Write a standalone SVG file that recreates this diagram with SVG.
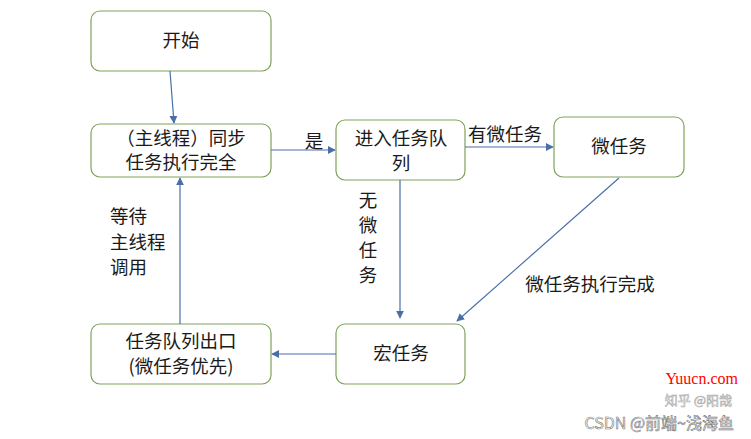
<svg xmlns="http://www.w3.org/2000/svg" width="751" height="439" viewBox="0 0 751 439">
<defs>
<style>
.box{fill:#fff;stroke:#7ea35a;stroke-width:1.2}
.t{font-family:"Microsoft YaHei","Noto Sans CJK SC",sans-serif;font-size:18.5px;fill:#1a1a1a}
.c{stroke:#4a6fa8;stroke-width:1.2;fill:none;marker-end:url(#ah)}
</style>
<marker id="ah" viewBox="0 0 10 10" refX="9" refY="5" markerWidth="8" markerHeight="8" markerUnits="userSpaceOnUse" orient="auto">
<path d="M0,0 L10,5 L0,10 z" fill="#4a6fa8"/>
</marker>
</defs>
<rect width="751" height="439" fill="#fff"/>
<g id="n-start"><rect class="box" x="91" y="11" width="180" height="60" rx="9"/><text class="t" x="181" y="47" text-anchor="middle">开始</text></g>
<g id="n-main"><rect class="box" x="91" y="124" width="180" height="53" rx="9"/><text class="t" x="181" y="145" text-anchor="middle">（主线程）同步</text><text class="t" x="181" y="169" text-anchor="middle">任务执行完全</text></g>
<g id="n-queue"><rect class="box" x="336" y="120" width="129" height="60" rx="9"/><text class="t" x="401" y="145" text-anchor="middle">进入任务队</text><text class="t" x="401" y="170" text-anchor="middle">列</text></g>
<g id="n-micro"><rect class="box" x="554" y="117" width="130" height="60" rx="9"/><text class="t" x="619" y="153" text-anchor="middle">微任务</text></g>
<g id="n-macro"><rect class="box" x="336" y="324" width="129" height="60" rx="9"/><text class="t" x="401" y="360" text-anchor="middle">宏任务</text></g>
<g id="n-exit"><rect class="box" x="91" y="324" width="180" height="60" rx="9"/><text class="t" x="181" y="348" text-anchor="middle">任务队列出口</text><text class="t" x="181" y="373" text-anchor="middle">(微任务优先)</text></g>
<g id="connectors">
<line class="c" x1="170" y1="71" x2="174" y2="123"/>
<line class="c" x1="271" y1="150" x2="335" y2="150"/>
<line class="c" x1="465" y1="147" x2="553" y2="147"/>
<line class="c" x1="400" y1="180" x2="400" y2="318"/>
<line class="c" x1="619" y1="178" x2="457" y2="321"/>
<line class="c" x1="336" y1="354" x2="272" y2="354"/>
<line class="c" x1="180" y1="324" x2="180" y2="178"/>
</g>
<g id="labels">
<text class="t" x="314" y="148" text-anchor="middle">是</text>
<text class="t" x="505" y="141" text-anchor="middle">有微任务</text>
<text class="t" x="368" y="207" text-anchor="middle">无</text>
<text class="t" x="368" y="232" text-anchor="middle">微</text>
<text class="t" x="368" y="257" text-anchor="middle">任</text>
<text class="t" x="368" y="282" text-anchor="middle">务</text>
<text class="t" x="110" y="223">等待</text>
<text class="t" x="110" y="249">主线程</text>
<text class="t" x="110" y="274">调用</text>
<text class="t" x="590" y="291" text-anchor="middle">微任务执行完成</text>
</g>
<g id="watermark">
<text x="738" y="384" text-anchor="end" font-family="Liberation Serif,serif" font-size="16" fill="#ff0000">Yuucn.com</text>
<text x="732" y="405" text-anchor="end" font-family="Noto Sans CJK SC,sans-serif" font-size="13" fill="#ffffff" stroke="#aaa" stroke-width="0.6">知乎 @阳哉</text>
<text x="734" y="429" text-anchor="end" font-family="Noto Sans CJK SC,sans-serif" font-size="16" fill="#ffffff" stroke="#777" stroke-width="0.6">CSDN @前端~浅海鱼</text>
</g>
</svg>
